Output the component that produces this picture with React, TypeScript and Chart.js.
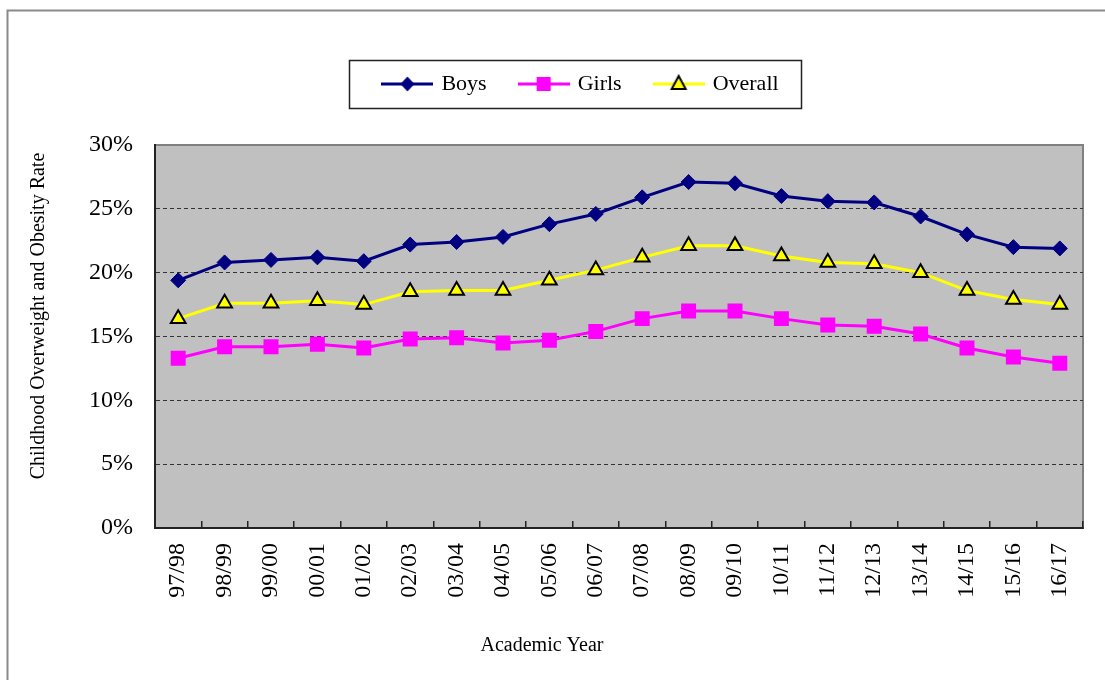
import React, { useEffect, useRef } from 'react';
import { Chart, registerables } from 'chart.js';

Chart.register(...registerables);

// ---- Data ----
const CATEGORIES = ['97/98', '98/99', '99/00', '00/01', '01/02', '02/03', '03/04', '04/05', '05/06', '06/07',
  '07/08', '08/09', '09/10', '10/11', '11/12', '12/13', '13/14', '14/15', '15/16', '16/17'];
const BOYS = [19.4, 20.8, 21.0, 21.2, 20.9, 22.2, 22.4, 22.8, 23.8, 24.6, 25.9, 27.1, 27.0, 26.0, 25.6, 25.5, 24.4, 23.0, 22.0, 21.9];
const GIRLS = [13.3, 14.2, 14.2, 14.4, 14.1, 14.8, 14.9, 14.5, 14.7, 15.4, 16.4, 17.0, 17.0, 16.4, 15.9, 15.8, 15.2, 14.1, 13.4, 12.9];
const OVERALL = [16.4, 17.6, 17.6, 17.8, 17.5, 18.5, 18.6, 18.6, 19.4, 20.2, 21.2, 22.1, 22.1, 21.3, 20.8, 20.7, 20.0, 18.6, 17.9, 17.5];
const SERIES_NAMES = ['Boys', 'Girls', 'Overall'];
const Y_MIN = 0;
const Y_MAX = 30;
const Y_STEP = 5;
const X_TITLE = 'Academic Year';
const Y_TITLE = 'Childhood Overweight and Obesity Rate';

// ---- Style ----
const FONT = '"Liberation Serif", "Times New Roman", serif';
const NAVY = '#000080';
const MAGENTA = '#FF00FF';
const YELLOW = '#FFFF00';

function makeLegendImg(kind: string): HTMLCanvasElement {
  const c = document.createElement('canvas');
  c.width = 52;
  c.height = 20;
  const g = c.getContext('2d')!;
  const cx = 26;
  const cy = 10;
  const color = kind === 'boys' ? NAVY : kind === 'girls' ? MAGENTA : YELLOW;
  g.lineWidth = 3;
  g.strokeStyle = color;
  g.beginPath();
  g.moveTo(0, cy);
  g.lineTo(52, cy);
  g.stroke();
  if (kind === 'boys') {
    g.fillStyle = NAVY;
    g.beginPath();
    g.moveTo(cx, cy - 7.5);
    g.lineTo(cx + 7, cy);
    g.lineTo(cx, cy + 7.5);
    g.lineTo(cx - 7, cy);
    g.closePath();
    g.fill();
  } else if (kind === 'girls') {
    g.fillStyle = MAGENTA;
    g.fillRect(cx - 7, cy - 7, 14, 14);
  } else {
    g.fillStyle = YELLOW;
    g.strokeStyle = '#000';
    g.lineWidth = 2;
    g.beginPath();
    g.moveTo(cx, cy - 8);
    g.lineTo(cx + 7, cy + 5);
    g.lineTo(cx - 7, cy + 5);
    g.closePath();
    g.fill();
    g.stroke();
  }
  return c;
}

const LEGEND_EXTRA = 40;
const LEGEND_CENTER_X = 581.5;

const legendSpacer = {
  id: 'legendSpacer',
  beforeInit(chart: any) {
    const lg = chart.legend;
    if (!lg) return;
    const orig = lg.fit;
    lg.fit = function () {
      orig.call(this);
      this.height += LEGEND_EXTRA;
    };
  },
  afterLayout(chart: any) {
    const lg = chart.legend;
    if (!lg) return;
    const w = lg.right - lg.left;
    lg.left = LEGEND_CENTER_X - w / 2;
    lg.right = lg.left + w;
  },
};

const framePlugin = {
  id: 'framePlugin',
  beforeDraw(chart: any) {
    const ctx = chart.ctx;
    const { left, top, right, bottom } = chart.chartArea;
    ctx.save();
    ctx.strokeStyle = '#8a8a8a';
    ctx.lineWidth = 2;
    ctx.beginPath();
    ctx.moveTo(7.5, chart.height + 5);
    ctx.lineTo(7.5, 10.5);
    ctx.lineTo(chart.width + 5, 10.5);
    ctx.stroke();
    ctx.fillStyle = '#C0C0C0';
    ctx.fillRect(left, top, right - left, bottom - top);
    ctx.strokeStyle = '#808080';
    ctx.lineWidth = 2;
    ctx.strokeRect(left, top, right - left, bottom - top);
    ctx.restore();
  },
  afterDraw(chart: any) {
    const ctx = chart.ctx;
    ctx.save();
    // legend border
    const lg = chart.legend;
    if (lg && lg.legendHitBoxes && lg.legendHitBoxes.length) {
      const hb = lg.legendHitBoxes;
      const first = hb[0];
      const last = hb[hb.length - 1];
      const cy = first.top + first.height / 2;
      const x0 = first.left - 35;
      const x1 = last.left + last.width + 23;
      ctx.strokeStyle = '#222';
      ctx.lineWidth = 1.5;
      ctx.strokeRect(Math.round(x0) + 0.5, Math.round(cy - 24) + 0.5, Math.round(x1 - x0), 48);
    }
    // axis titles
    ctx.fillStyle = '#000';
    ctx.font = '20px ' + FONT;
    ctx.textAlign = 'center';
    ctx.textBaseline = 'middle';
    ctx.fillText(X_TITLE, 542, 646);
    ctx.translate(39, 316);
    ctx.rotate(-Math.PI / 2);
    ctx.fillText(Y_TITLE, 0, 0);
    ctx.restore();
  },
};

export default function App() {
  const ref = useRef<HTMLCanvasElement>(null);

  useEffect(() => {
    const canvas = ref.current;
    if (!canvas) return;
    const legendImgs = [makeLegendImg('boys'), makeLegendImg('girls'), makeLegendImg('overall')];

    const chart = new Chart(canvas, {
      type: 'line',
      data: {
        labels: CATEGORIES,
        datasets: [
          {
            label: SERIES_NAMES[0],
            data: BOYS,
            borderColor: NAVY,
            backgroundColor: NAVY,
            borderWidth: 3,
            pointStyle: 'rectRot',
            pointRadius: 7.5,
            pointBackgroundColor: NAVY,
            pointBorderColor: NAVY,
            pointBorderWidth: 1,
            tension: 0,
          },
          {
            label: SERIES_NAMES[1],
            data: GIRLS,
            borderColor: MAGENTA,
            backgroundColor: MAGENTA,
            borderWidth: 3,
            pointStyle: 'rect',
            pointRadius: 10.6,
            pointBackgroundColor: MAGENTA,
            pointBorderColor: MAGENTA,
            pointBorderWidth: 0,
            tension: 0,
          },
          {
            label: SERIES_NAMES[2],
            data: OVERALL,
            borderColor: YELLOW,
            backgroundColor: YELLOW,
            borderWidth: 3,
            pointStyle: 'triangle',
            pointRadius: 8.5,
            pointBackgroundColor: YELLOW,
            pointBorderColor: '#000',
            pointBorderWidth: 2,
            tension: 0,
          },
        ],
      },
      options: {
        animation: false,
        responsive: false,
        maintainAspectRatio: false,
        layout: { padding: { top: 39, left: 0, right: 22, bottom: 0 } },
        plugins: {
          legend: {
            position: 'top',
            labels: {
              usePointStyle: true,
              pointStyleWidth: 46,
              padding: 34,
              color: '#000',
              font: { family: FONT, size: 22 },
              generateLabels: (c: any) =>
                (Chart.defaults.plugins.legend.labels.generateLabels as any)(c).map((l: any, i: number) => ({
                  ...l,
                  pointStyle: legendImgs[i],
                })),
            },
          },
          tooltip: { enabled: false },
        },
        scales: {
          x: {
            offset: true,
            ticks: {
              autoSkip: false,
              maxRotation: 90,
              minRotation: 90,
              padding: 22,
              color: '#000',
              font: { family: FONT, size: 24 },
            },
            grid: {
              offset: true,
              drawOnChartArea: false,
              drawTicks: true,
              tickLength: -7,
              color: '#222',
              lineWidth: 1.5,
            },
            border: { display: true, color: '#222', width: 2 },
            afterFit: (s: any) => {
              s.height = 152;
              s.paddingLeft = 0;
              s.paddingRight = 0;
            },
          },
          y: {
            min: Y_MIN,
            max: Y_MAX,
            ticks: {
              stepSize: Y_STEP,
              padding: 22,
              color: '#000',
              font: { family: FONT, size: 24 },
              callback: (v: any) => v + '%',
            },
            grid: {
              drawTicks: false,
              lineWidth: 1,
              color: (ctx: any) =>
                ctx.tick && (ctx.tick.value === Y_MIN || ctx.tick.value === Y_MAX) ? 'rgba(0,0,0,0)' : '#333',
            },
            border: { display: true, color: '#222', width: 2, dash: [4, 3] },
            afterFit: (s: any) => {
              s.width = 155;
            },
          },
        },
      } as any,
      plugins: [legendSpacer, framePlugin],
    });

    return () => chart.destroy();
  }, []);

  return (
    <div style={{ position: 'absolute', left: 0, top: 0, width: 1105, height: 680 }}>
      <canvas ref={ref} width={1105} height={680} style={{ display: 'block' }} />
    </div>
  );
}
